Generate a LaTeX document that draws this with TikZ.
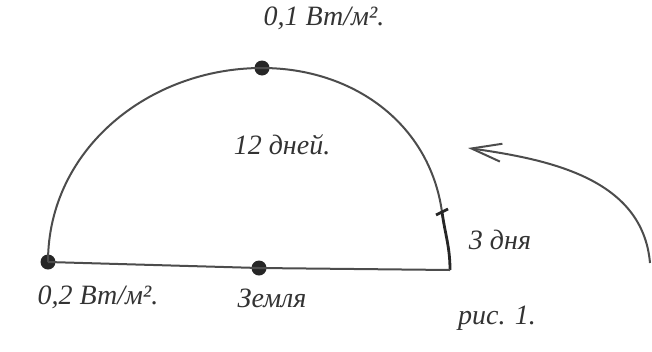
\documentclass[tikz,border=0pt]{standalone}
\usepackage{fontspec}
\setmainfont{Liberation Serif}
\usetikzlibrary{arrows.meta}

\begin{document}
\begin{tikzpicture}[
    x=1pt, y=1pt,
    dot/.style={circle, fill=black!85, inner sep=0pt, minimum size=15pt},
    orbit/.style={draw=black!70, line width=2pt},
    lbl/.style={font=\fontsize{28}{30}\selectfont\itshape, inner sep=0pt, text=black!80},
    flow/.style={draw=black!70, line width=2pt, -{Straight Barb[length=30pt, width=18pt, line width=2pt]}}
]
    \useasboundingbox (0,-351) rectangle (652,0);

    % Points on the orbit (pixel coordinates, y down)
    \node (west) at (48,-262) [dot] {};
    \node (top) at (262,-68) [dot] {};
    \node (earth) at (259,-268) [dot] {};
    \coordinate (tick) at (442,-212);
    \coordinate (east) at (450,-270);

    % Orbit and base line
    \draw [orbit] (west.center) to[out=90, in=180] (top.center) to[out=0, in=98] (tick);
    \draw [orbit, line width=2.8pt, draw=black!85] (tick) to[out=-82, in=90] (east);
    \draw [orbit] (west.center) -- (earth.center) -- (east);
    \draw [line width=2.8pt, draw=black!85] (tick) ++(-6,-3) -- ++(12,6);

    % Direction of motion
    \coordinate (tail) at (650,-263);
    \coordinate (head) at (468,-148);
    \draw [flow] (tail) to[out=95, in=-8] (head);

    % Labels
    \node (ltop) at (324,-18) [lbl] {0,1 Вт/м².};
    \node (lmid) at (282,-145) [lbl] {12 дней.};
    \node (lside) at (500,-240) [lbl] {3 дня};
    \node (lwest) at (98,-297) [lbl] {0,2 Вт/м².};
    \node (learth) at (272,-298) [lbl] {Земля};
    \node (lfig) at (497,-318) [lbl] {рис. 1.};
\end{tikzpicture}
\end{document}
